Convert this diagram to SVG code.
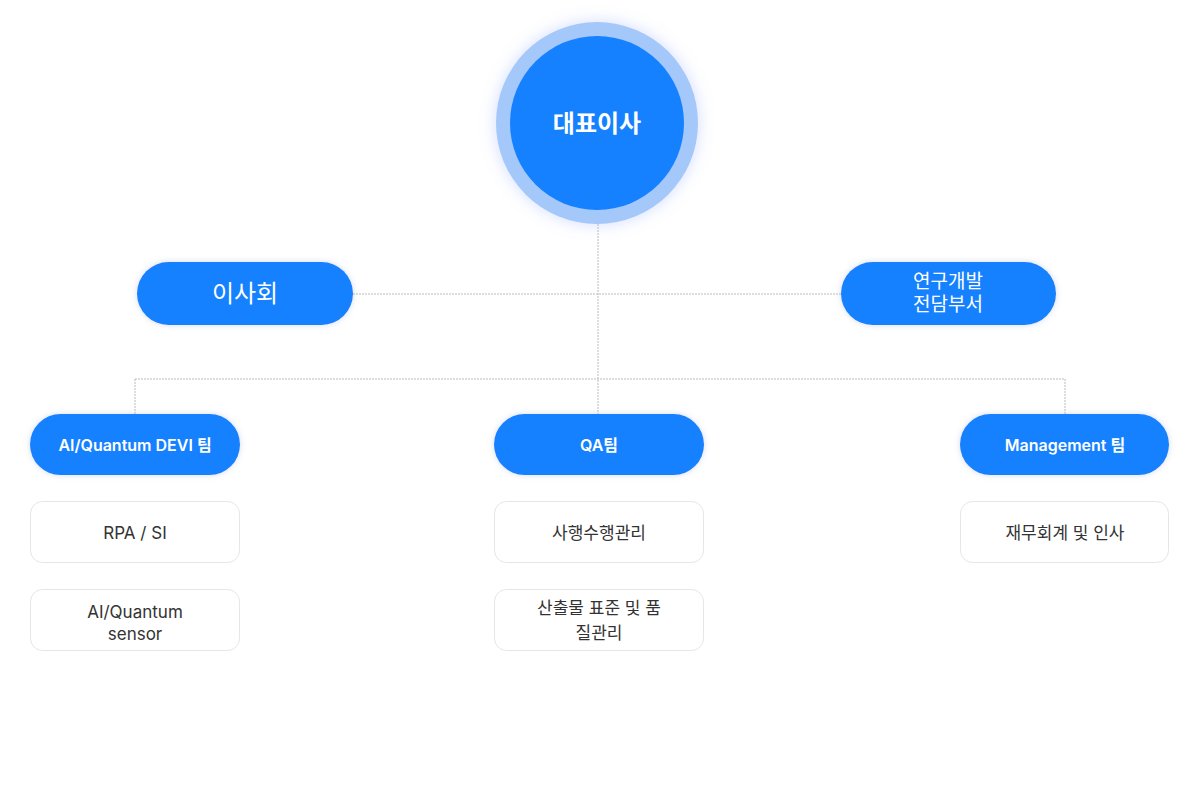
<svg xmlns="http://www.w3.org/2000/svg" width="1200" height="800" viewBox="0 0 1200 800">
<defs>
<style>
.pill{fill:#1681ff;}
.box{fill:#fff;stroke:#e4e6ea;stroke-width:1;}
.w{fill:#fff;font-family:Inter,"Noto Sans CJK KR",sans-serif;text-anchor:middle;}
.d{fill:#333;font-family:Inter,"Noto Sans CJK KR",sans-serif;text-anchor:middle;font-size:17px;}
.ln{stroke:#bbb;stroke-width:1;stroke-dasharray:2 1;fill:none;}
</style>
<filter id="sh" x="-20%" y="-20%" width="140%" height="140%"><feDropShadow dx="0" dy="0" stdDeviation="3" flood-color="#8898cc" flood-opacity="0.35"/></filter>
<filter id="glow" x="-30%" y="-30%" width="160%" height="160%"><feDropShadow dx="0" dy="0" stdDeviation="8" flood-color="#8fa8ff" flood-opacity="0.4"/></filter>
</defs>
<rect width="1200" height="800" fill="#fff"/>
<g id="connectors">
<path class="ln" d="M598 224V414M353 294H842M135 379H1065M135 379V414M1065 379V414"/>
</g>
<g id="ceo"><circle cx="597" cy="123" r="101" fill="#a5c8fb" filter="url(#glow)"/><circle cx="597" cy="123" r="87" class="pill"/><text x="597" y="132" class="w" font-size="24" font-weight="700">대표이사</text></g>
<g id="board"><rect x="137" y="262" width="216" height="63" rx="31.5" class="pill" filter="url(#sh)"/><text x="245" y="302" class="w" font-size="24">이사회</text></g>
<g id="rnd"><rect x="841" y="262" width="215" height="63" rx="31.5" class="pill" filter="url(#sh)"/><text x="948" y="288" class="w" font-size="19">연구개발</text><text x="948" y="311" class="w" font-size="19">전담부서</text></g>
<g id="team-ai"><rect x="30" y="414" width="210" height="61" rx="30.5" class="pill" filter="url(#sh)"/><text x="135" y="451" class="w" font-size="16" font-weight="600">AI/Quantum DEVI  팀</text></g>
<g id="team-qa"><rect x="494" y="414" width="210" height="61" rx="30.5" class="pill" filter="url(#sh)"/><text x="599" y="451" class="w" font-size="16" font-weight="600">QA팀</text></g>
<g id="team-mg"><rect x="960" y="414" width="209" height="61" rx="30.5" class="pill" filter="url(#sh)"/><text x="1065" y="451" class="w" font-size="16" font-weight="600">Management 팀</text></g>
<g id="rpa"><rect x="30.5" y="501.5" width="209" height="61" rx="12" class="box"/><text x="135" y="539" class="d">RPA  / SI</text></g>
<g id="sensor"><rect x="30.5" y="589.5" width="209" height="61" rx="12" class="box"/><text x="135" y="618" class="d">AI/Quantum</text><text x="135" y="640" class="d">sensor</text></g>
<g id="exec"><rect x="494.5" y="501.5" width="209" height="61" rx="12" class="box"/><text x="599" y="539" class="d">사행수행관리</text></g>
<g id="quality"><rect x="494.5" y="589.5" width="209" height="61" rx="12" class="box"/><text x="599" y="614" class="d">산출물 표준 및 품</text><text x="599" y="639" class="d">질관리</text></g>
<g id="finance"><rect x="960.5" y="501.5" width="208" height="61" rx="12" class="box"/><text x="1065" y="539" class="d">재무회계 및 인사</text></g>
</svg>
